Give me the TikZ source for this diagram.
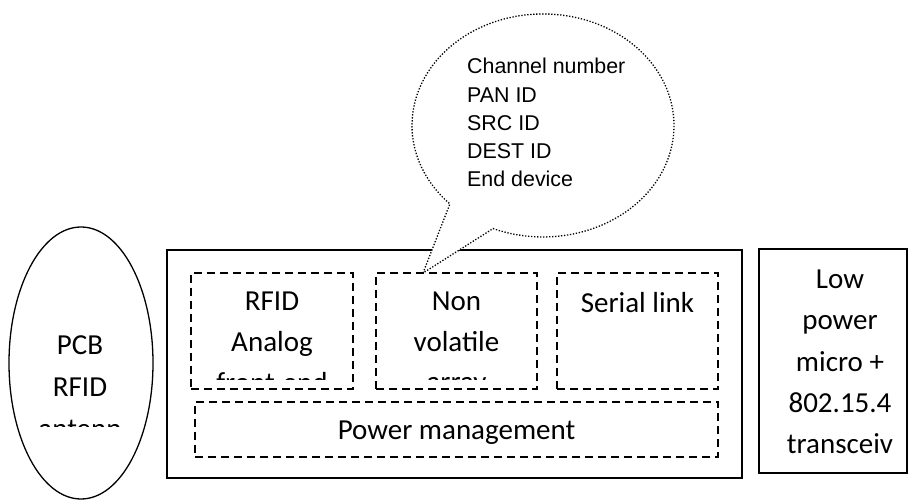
\documentclass[tikz,border=0pt]{standalone}
\usepackage{fontspec}
\setmainfont{Carlito}
\newfontfamily\calloutfont{Liberation Sans}
\usetikzlibrary{shapes.geometric}
\begin{document}
\begin{tikzpicture}[x=1pt,y=1pt,
  solidbox/.style={draw, line width=1.8pt, minimum width=#1},
  dashbox/.style={draw, line width=1.6pt, dash pattern=on 8pt off 5pt},
  lbl/.style={font=\fontsize{29}{42}\selectfont, inner sep=0pt, anchor=base},
  info/.style={font=\calloutfont\fontsize{21.4}{28}\selectfont, inner sep=0pt, anchor=base west},
  bubble/.style={draw, fill=white, line width=1.3pt, dash pattern=on 1.3pt off 1.7pt, line join=round}
]
\useasboundingbox (0,0) rectangle (908,501);

% antenna
\node[ellipse, draw, line width=1.3pt, minimum width=144pt, minimum height=272pt, inner sep=0pt] (ant) at (81,138) {};

% tag chip and its blocks
\node[solidbox=575pt, minimum height=228pt] (chip) at (454.5,137) {};
\node[dashbox, minimum width=162pt, minimum height=116pt] (rf) at (272,170) {};
\node[dashbox, minimum width=161pt, minimum height=116pt] (nv) at (456.5,170) {};
\node[dashbox, minimum width=161pt, minimum height=116pt] (ser) at (637.5,170) {};
\node[dashbox, minimum width=523pt, minimum height=55pt] (pwr) at (456.5,71.5) {};

% microcontroller
\node[draw, line width=1.6pt, minimum width=148pt, minimum height=224pt] (mcu) at (833,140) {};

% labels
\begin{scope}
  \clip (9,74) rectangle (153,300);
  \node[lbl] (antA) at (80,146) {PCB};
  \node[lbl] (antB) at (80,104) {RFID};
  \node[lbl] (antC) at (80,62) {antenn};
\end{scope}
\begin{scope}
  \clip (191,121) rectangle (353,228);
  \node[lbl] (rfA) at (272,190) {RFID};
  \node[lbl] (rfB) at (272,149) {Analog};
  \node[lbl] (rfC) at (272,108) {front-end};
\end{scope}
\begin{scope}
  \clip (376,121) rectangle (537,228);
  \node[lbl] (nvA) at (456.5,190) {Non};
  \node[lbl] (nvB) at (456.5,149) {volatile};
  \node[lbl] (nvC) at (456.5,109) {array};
\end{scope}
\node[lbl] (serA) at (637.5,188) {Serial link};
\node[lbl] (pwrA) at (456.5,61) {Power management};
\node[lbl] (mcuA) at (840,212) {Low};
\node[lbl] (mcuB) at (840,171) {power};
\node[lbl] (mcuC) at (840,129) {micro +};
\node[lbl] (mcuD) at (840,88) {802.15.4};
\node[lbl] (mcuE) at (840,47) {transceiv};

% speech bubble pointing at the memory block
\coordinate (tip) at (423,228);
\draw[bubble] (tip) -- (449.9,297.1)
  arc[start angle=224.7, end angle=-112.4, x radius=131, y radius=111.5] -- cycle;
\node[info] (i1) at (467,427) {Channel number};
\node[info] (i2) at (467,398) {PAN ID};
\node[info] (i3) at (467,370) {SRC ID};
\node[info] (i4) at (467,342) {DEST ID};
\node[info] (i5) at (467,314) {End device};
\end{tikzpicture}
\end{document}
